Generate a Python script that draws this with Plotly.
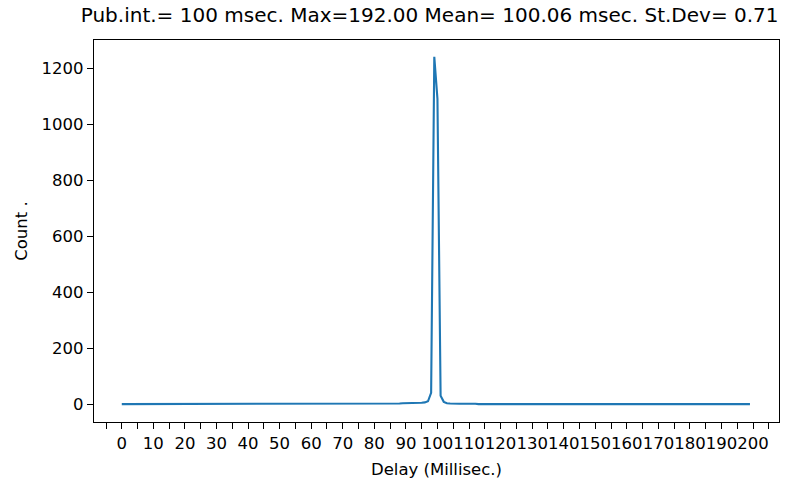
import plotly.graph_objects as go

# Delay (ms) bins
delay_ms = list(range(0, 200))

# Counts per delay bin
counts = (
    [0, 0, 0, 0, 0, 0, 2, 1, 0, 0] +            # 0-9
    [0, 0, 0, 0, 0, 0, 0, 0, 0, 0] +            # 10-19
    [0, 0, 0, 0, 0, 0, 0, 0, 0, 0] +            # 20-29
    [0, 0, 0, 0, 0, 0, 0, 0, 0, 0] +            # 30-39
    [0, 0, 0, 0, 0, 0, 0, 0, 0, 0] +            # 40-49
    [0, 0, 0, 0, 0, 0, 0, 0, 0, 0] +            # 50-59
    [0, 0, 0, 0, 0, 0, 0, 0, 0, 0] +            # 60-69
    [0, 0, 0, 0, 0, 0, 0, 0, 0, 0] +            # 70-79
    [0, 0, 0, 0, 0, 0, 1, 2, 2, 3] +            # 80-89
    [3, 3, 4, 4, 4, 5, 6, 10, 40, 1240] +       # 90-99
    [1090, 30, 8, 3, 2, 1, 1, 1, 1, 1] +        # 100-109
    [1, 3, 1, 0, 0, 0, 0, 0, 0, 0] +            # 110-119
    [0, 0, 0, 0, 0, 0, 0, 0, 0, 0] +            # 120-129
    [0, 0, 0, 0, 0, 0, 0, 0, 0, 0] +            # 130-139
    [0, 0, 0, 0, 0, 0, 0, 0, 0, 0] +            # 140-149
    [0, 0, 0, 0, 0, 0, 0, 0, 0, 0] +            # 150-159
    [0, 0, 0, 0, 0, 0, 0, 0, 0, 0] +            # 160-169
    [0, 0, 0, 0, 0, 0, 0, 0, 0, 0] +            # 170-179
    [0, 0, 0, 0, 0, 0, 0, 0, 1, 1] +            # 180-189
    [2, 2, 1, 0, 0, 0, 0, 0, 0, 0]              # 190-199
)

x_ticks = list(range(0, 201, 10))
y_ticks = [0, 200, 400, 600, 800, 1000, 1200]

title_text = "Pub.int.= 100 msec. Max=192.00 Mean= 100.06 msec. St.Dev= 0.71"

FONT = "DejaVu Sans"
TICK_SIZE = 16.5

fig = go.Figure()
fig.add_trace(go.Scatter(
    x=delay_ms, y=counts, mode="lines",
    line=dict(color="#1f77b4", width=2.1),
    showlegend=False,
))

fig.update_layout(
    width=796, height=479,
    margin=dict(l=94, r=17, t=40, b=57, autoexpand=False),
    paper_bgcolor="white", plot_bgcolor="white",
    font=dict(family=FONT, size=TICK_SIZE, color="black"),
    title=dict(text=title_text, x=0.49, xref="paper", xanchor="center",
               y=1, yref="paper", yanchor="bottom", pad=dict(b=18),
               font=dict(family=FONT, size=20, color="black")),
)

fig.update_xaxes(
    range=[-8.8, 208.2], showgrid=False, zeroline=False, automargin=False,
    showline=True, linecolor="black", linewidth=1.3, mirror=True,
    ticks="outside", ticklen=6, tickwidth=1.3, tickcolor="black",
    tickvals=x_ticks, tickangle=0,
    minor=dict(dtick=5, tick0=0, ticks="outside", ticklen=6, tickwidth=1.3, tickcolor="black", showgrid=False),
    tickfont=dict(family=FONT, size=TICK_SIZE),
    title=dict(text="Delay (Millisec.)", font=dict(family=FONT, size=TICK_SIZE), standoff=11),
)
fig.update_yaxes(
    range=[-64, 1300], showgrid=False, zeroline=False, automargin=False,
    showline=True, linecolor="black", linewidth=1.3, mirror=True,
    ticks="outside", ticklen=6, tickwidth=1.3, tickcolor="black",
    tickvals=y_ticks,
    tickfont=dict(family=FONT, size=TICK_SIZE),
    title=dict(text="Count .", font=dict(family=FONT, size=TICK_SIZE), standoff=9),
)

fig.write_html("out.html")
